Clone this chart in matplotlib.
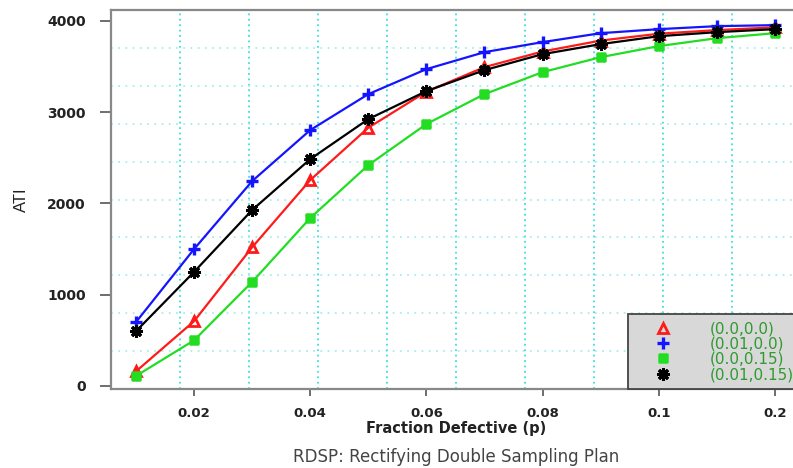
import numpy as np
import matplotlib
matplotlib.use("Agg")
from matplotlib import pyplot as plt
from matplotlib.path import Path

# fraction defective p (equally spaced categories on the axis)
p_values = [0.01, 0.02, 0.03, 0.04, 0.05, 0.06, 0.07, 0.08, 0.09, 0.1, 0.15, 0.2]
tick_idx = [1, 3, 5, 7, 9, 11]
tick_labels = ["0.02", "0.04", "0.06", "0.08", "0.1", "0.2"]

ati_00_00 = [160, 710, 1520, 2256, 2830, 3225, 3494, 3665, 3785, 3860, 3900, 3930]
ati_01_00 = [700, 1500, 2245, 2804, 3198, 3472, 3658, 3768, 3866, 3910, 3943, 3954]
ati_00_15 = [110, 500, 1140, 1840, 2420, 2870, 3198, 3439, 3603, 3724, 3811, 3866]
ati_01_15 = [600, 1250, 1928, 2486, 2924, 3231, 3461, 3636, 3746, 3833, 3877, 3910]

labels = ["(0.0,0.0)", "(0.01,0.0)", "(0.0,0.15)", "(0.01,0.15)"]

# square with cross (like R pch 7)
sq_x = Path([(-1, -1), (1, -1), (1, 1), (-1, 1), (-1, -1), (-1, -1), (1, 1), (-1, 1), (1, -1)],
            [Path.MOVETO, Path.LINETO, Path.LINETO, Path.LINETO, Path.CLOSEPOLY,
             Path.MOVETO, Path.LINETO, Path.MOVETO, Path.LINETO])

fig = plt.figure(figsize=(7.93, 4.68), dpi=100)
ax = fig.add_axes([111 / 793, 1 - 389 / 468, 690 / 793, 379 / 468])

x = np.arange(len(p_values))
ax.set_xlim(-0.43, 11.45)
ax.set_ylim(-33, 4120)

# R-style grid: 10 equal cells in each direction
for i in range(1, 10):
    ax.plot([i / 10, i / 10], [0, 1], transform=ax.transAxes, color="#3fdede",
            ls=(0, (1, 2)), lw=1.3, zorder=0)
    ax.plot([0, 1], [i / 10, i / 10], transform=ax.transAxes, color="#a6eeee",
            ls=(0, (1, 3)), lw=1.3, zorder=0)

ax.plot(x, ati_00_00, color="#ff1a1a", lw=1.6, marker="^", ms=7, mfc="none", mew=2,
        label=labels[0])
ax.plot(x, ati_01_00, color="#1414ff", lw=1.6, marker="+", ms=8.5, mew=2.4,
        label=labels[1])
ax.plot(x, ati_00_15, color="#22dd22", lw=1.6, marker=sq_x, ms=5.5, mfc="none", mew=2,
        label=labels[2])
ax.plot(x, ati_01_15, color="#000000", lw=1.6, marker=(8, 2, 0), ms=9, mew=2.2,
        label=labels[3])

ax.set_xticks(tick_idx)
ax.set_xticklabels(tick_labels)
ax.set_yticks([0, 1000, 2000, 3000, 4000])
ax.tick_params(axis="y", length=8, width=1.2, pad=10, color="#555555")
ax.tick_params(axis="x", length=5, width=1.2, pad=8, color="#555555")
for lab in ax.get_yticklabels():
    lab.set_fontweight("bold")
    lab.set_fontsize(10)
    lab.set_color("#222222")
for lab in ax.get_xticklabels():
    lab.set_fontweight("bold")
    lab.set_fontsize(9.5)
    lab.set_color("#222222")

for side in ["left", "bottom", "top", "right"]:
    ax.spines[side].set_color("#888888")
    ax.spines[side].set_linewidth(1.6)

leg = ax.legend(loc="lower right", bbox_to_anchor=(1, 0), borderaxespad=0,
                fancybox=False, facecolor="#d8d8d8", edgecolor="#444444", framealpha=1,
                prop={"family": "DejaVu Sans", "size": 11}, handlelength=3.6,
                labelspacing=0.02, borderpad=0.45, handletextpad=1.3)
for t in leg.get_texts():
    t.set_color("#2f9a2f")
for h in leg.get_lines():
    h.set_linestyle("none")
leg.get_frame().set_linewidth(1.3)

fig.text(21 / 793, 1 - 200 / 468, "ATI", rotation=90, ha="center", va="center",
         fontsize=12, family="Liberation Sans", color="#222222")
fig.text(456 / 793, 1 - 429 / 468, "Fraction Defective (p)", ha="center", va="center",
         fontsize=10.5, fontweight="bold", family="DejaVu Sans", color="#222222")
fig.text(456 / 793, 1 - 457 / 468, "RDSP: Rectifying Double Sampling Plan", ha="center",
         va="center", fontsize=12, family="DejaVu Sans", color="#444444")

fig.savefig("out.png", dpi=100)
